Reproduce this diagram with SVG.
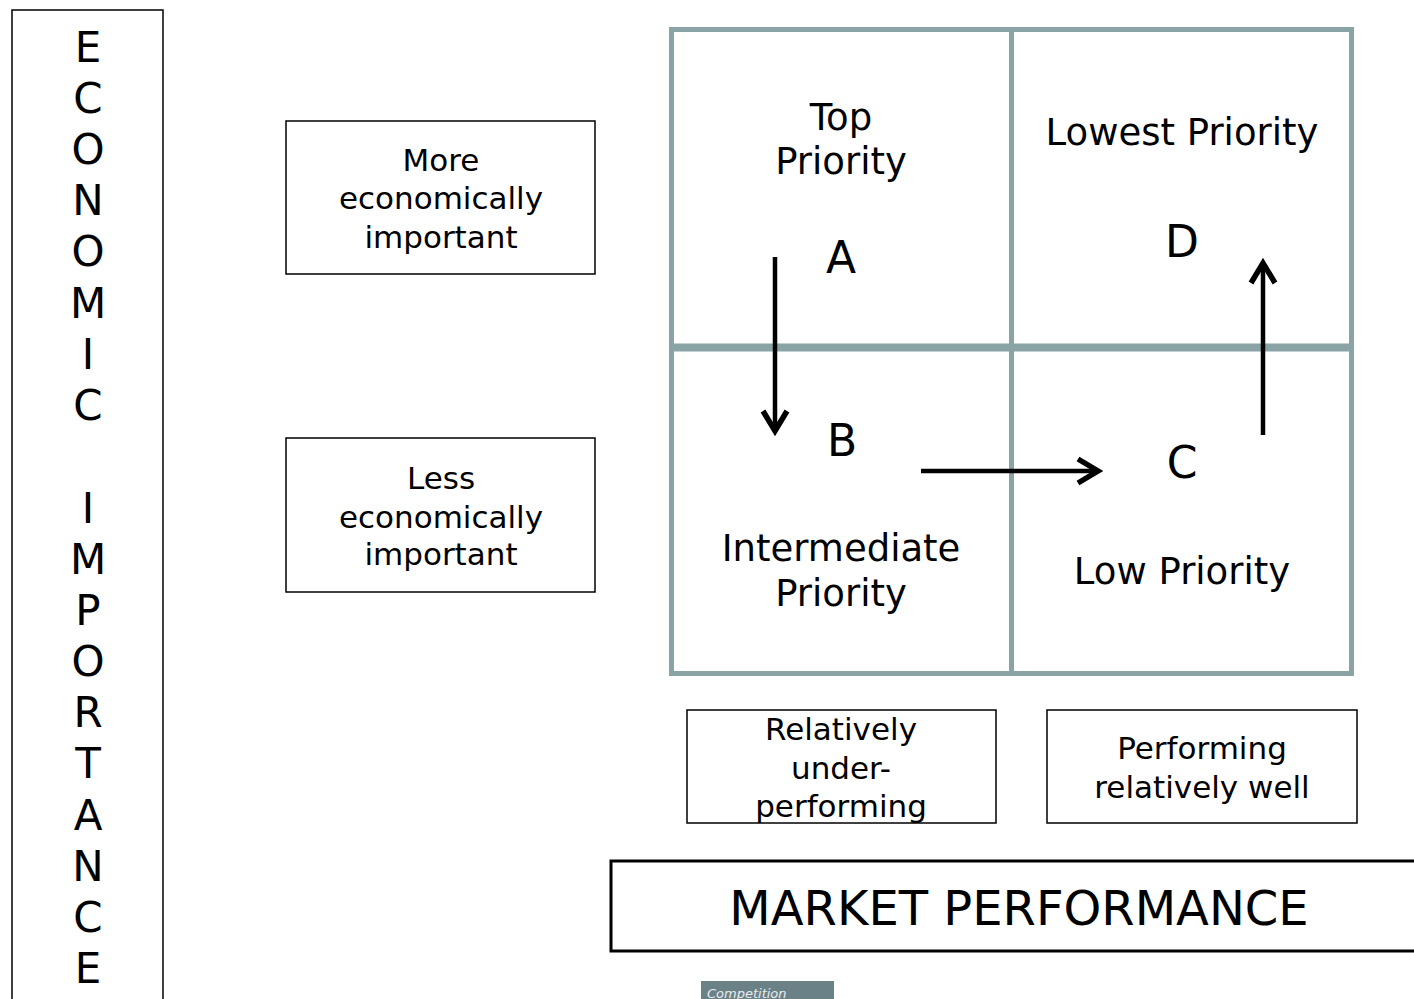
<svg xmlns="http://www.w3.org/2000/svg" width="1414" height="999" viewBox="0 0 1414 999">
<style>
text{font-family:"DejaVu Sans","Verdana",sans-serif;fill:#000;text-anchor:middle}
.box{fill:#fff;stroke:#000;stroke-width:1.5}
.grid{fill:none;stroke:#8aa4a5;stroke-width:5}
.arr{fill:none;stroke:#000;stroke-width:4.5}
.head{fill:none;stroke:#000;stroke-width:5.5;stroke-linejoin:miter}
.lbl{font-size:31px}
.q{font-size:37px}
.big{font-size:44px}
.v{font-size:42px}
</style>
<rect width="1414" height="999" fill="#fff"/>
<g id="axis-y">
<rect class="box" x="12" y="10" width="151" height="1000"/>
<text class="v" x="88" y="62">E</text>
<text class="v" x="88" y="113">C</text>
<text class="v" x="88" y="164">O</text>
<text class="v" x="88" y="215">N</text>
<text class="v" x="88" y="266">O</text>
<text class="v" x="88" y="318">M</text>
<text class="v" x="88" y="369">I</text>
<text class="v" x="88" y="420">C</text>
<text class="v" x="88" y="523">I</text>
<text class="v" x="88" y="574">M</text>
<text class="v" x="88" y="625">P</text>
<text class="v" x="88" y="676">O</text>
<text class="v" x="88" y="727">R</text>
<text class="v" x="88" y="778">T</text>
<text class="v" x="88" y="830">A</text>
<text class="v" x="88" y="881">N</text>
<text class="v" x="88" y="932">C</text>
<text class="v" x="88" y="983">E</text>
</g>
<g id="more">
<rect class="box" x="286" y="121" width="309" height="153"/>
<text class="lbl" x="441" y="171">More</text>
<text class="lbl" x="441" y="209">economically</text>
<text class="lbl" x="441" y="248">important</text>
</g>
<g id="less">
<rect class="box" x="286" y="438" width="309" height="154"/>
<text class="lbl" x="441" y="489">Less</text>
<text class="lbl" x="441" y="528">economically</text>
<text class="lbl" x="441" y="565">important</text>
</g>
<g id="grid">
<rect class="grid" x="671.5" y="29.5" width="680" height="644"/>
<line class="grid" x1="1011.5" y1="29.5" x2="1011.5" y2="673.5"/>
<line class="grid" x1="671.5" y1="347.5" x2="1351.5" y2="347.5" style="stroke-width:8"/>
</g>
<g id="quadA">
<text class="q" x="841" y="130">Top</text>
<text class="q" x="841" y="174">Priority</text>
<text class="big" x="841" y="273">A</text>
</g>
<g id="quadD">
<text class="q" x="1182" y="145">Lowest Priority</text>
<text class="big" x="1182" y="257">D</text>
</g>
<g id="quadB">
<text class="big" x="842" y="456">B</text>
<text class="q" x="841" y="561">Intermediate</text>
<text class="q" x="841" y="606">Priority</text>
</g>
<g id="quadC">
<text class="big" x="1182" y="478">C</text>
<text class="q" x="1182" y="584">Low Priority</text>
</g>
<g id="connectors">
<line class="arr" x1="775" y1="257" x2="775" y2="430"/>
<polyline class="head" points="763,411 775,431 787,411"/>
<line class="arr" x1="921" y1="471" x2="1096" y2="471"/>
<polyline class="head" points="1078,459 1098,471 1078,483"/>
<line class="arr" x1="1263" y1="435" x2="1263" y2="264"/>
<polyline class="head" points="1251,283 1263,263 1275,283"/>
</g>
<g id="under">
<rect class="box" x="687" y="710" width="309" height="113"/>
<text class="lbl" x="841" y="740">Relatively</text>
<text class="lbl" x="841" y="779">under-</text>
<text class="lbl" x="841" y="817">performing</text>
</g>
<g id="well">
<rect class="box" x="1047" y="710" width="310" height="113"/>
<text class="lbl" x="1202" y="759">Performing</text>
<text class="lbl" x="1202" y="798">relatively well</text>
</g>
<g id="axis-x">
<rect x="611" y="861" width="810" height="90" fill="#fff" stroke="#000" stroke-width="3"/>
<text x="1019" y="925" style="font-size:48px">MARKET PERFORMANCE</text>
</g>
<g id="badge">
<rect x="701" y="981" width="133" height="20" fill="#6b8188"/>
<text x="707" y="998" style="font-size:13px;font-style:italic;fill:#e6ecee;text-anchor:start">Competition</text>
</g>
</svg>
